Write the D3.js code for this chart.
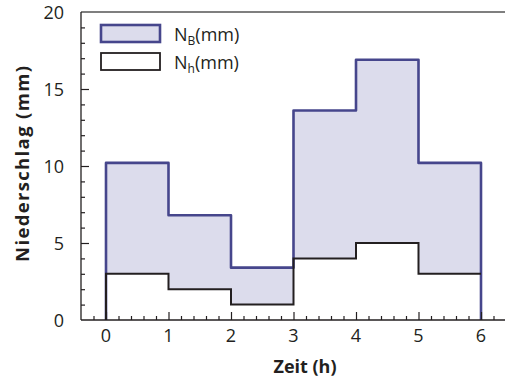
<!DOCTYPE html>
<html><head><meta charset="utf-8">
<script src="https://cdn.jsdelivr.net/npm/d3@7"></script>
<style>body{margin:0;background:#fff}svg{display:block}text{font-family:"Open Sans",sans-serif;fill:#231f20}</style>
</head><body><svg id="c" width="505" height="381"></svg>
<script>
const hours = [0,1,2,3,4,5,6];
const nB = [10.2, 6.8, 3.4, 13.6, 16.9, 10.2];
const nH = [3, 2, 1, 4, 5, 3];
const xTicks = [0,1,2,3,4,5,6];
const yTicks = [0,5,10,15,20];

const svg = d3.select("#c");
const x = d3.scaleLinear().domain([-0.4, 6.4]).range([81, 506]);
const y = d3.scaleLinear().domain([0, 20]).range([320, 12]);

function stepPts(vals){
  const pts=[];
  vals.forEach((v,i)=>{pts.push([hours[i],v]);pts.push([hours[i+1],v]);});
  return pts;
}
const line = d3.line().x(d=>x(d[0])).y(d=>y(d[1]));
const area = d3.area().x(d=>x(d[0])).y0(y(0)).y1(d=>y(d[1]));
const bPts = stepPts(nB), hPts = stepPts(nH);

svg.append("path").attr("d", area(bPts)).attr("fill","#dcdcec");
svg.append("path").attr("d", area(hPts)).attr("fill","#fff");
svg.append("path").attr("d", line([[0,0],...bPts,[6,0]])).attr("fill","none").attr("stroke","#46468c").attr("stroke-width",2.6).attr("stroke-linejoin","round");
svg.append("path").attr("d", line([[0,0],...hPts])).attr("fill","none").attr("stroke","#231f20").attr("stroke-width",2);

// axes frame
svg.append("line").attr("x1",x(-0.4)).attr("x2",505).attr("y1",y(20)).attr("y2",y(20)).attr("stroke","#555").attr("stroke-width",1.3);
svg.append("line").attr("x1",x(-0.4)).attr("x2",x(-0.4)).attr("y1",y(20)).attr("y2",y(0)).attr("stroke","#231f20").attr("stroke-width",1.3);
svg.append("line").attr("x1",x(-0.4)).attr("x2",505).attr("y1",y(0)).attr("y2",y(0)).attr("stroke","#231f20").attr("stroke-width",1.3);

const xAxis = d3.axisBottom(x).tickValues(d3.range(-0.2,6.41,0.2).map(v=>+v.toFixed(1))).tickSize(-4).tickFormat("");
const gx = svg.append("g").attr("transform",`translate(0,${y(0)})`).call(xAxis);
gx.select(".domain").remove();
gx.selectAll(".tick").filter(d=>Number.isInteger(d)).select("line").attr("y2",-8);
gx.selectAll("line").attr("stroke","#231f20").attr("stroke-width",1.2);
svg.append("g").selectAll("text").data(xTicks).join("text")
  .attr("x",d=>x(d)).attr("y",342).attr("text-anchor","middle").attr("font-size",18).text(d=>d);

const yAxis = d3.axisLeft(y).tickValues(d3.range(1,20)).tickSize(-4).tickFormat("");
const gy = svg.append("g").attr("transform",`translate(${x(-0.4)},0)`).call(yAxis);
gy.select(".domain").remove();
gy.selectAll(".tick").filter(d=>d%5===0).select("line").attr("x2",8);
gy.selectAll("line").attr("stroke","#231f20").attr("stroke-width",1.2);
svg.append("g").selectAll("text").data(yTicks).join("text")
  .attr("x",64).attr("y",d=>y(d)+7).attr("text-anchor","end").attr("font-size",18).text(d=>d);

svg.append("text").attr("transform","translate(29,164) rotate(-90)").attr("text-anchor","middle")
  .attr("font-size",18.5).attr("font-weight","bold").attr("textLength",196).attr("lengthAdjust","spacing").text("Niederschlag (mm)");
svg.append("text").attr("x",305).attr("y",373).attr("text-anchor","middle")
  .attr("font-size",18).attr("font-weight","bold").text("Zeit (h)");

// legend
const leg = [{s:"B",fill:"#dcdcec",stroke:"#46468c",w:2.6},{s:"h",fill:"#fff",stroke:"#231f20",w:1.8}];
leg.forEach((d,i)=>{
  const yy = 25 + i*28;
  svg.append("rect").attr("x",101).attr("y",yy).attr("width",59).attr("height",17).attr("fill",d.fill).attr("stroke",d.stroke).attr("stroke-width",d.w);
  const t = svg.append("text").attr("x",174).attr("y",yy+16).attr("font-size",18);
  t.append("tspan").text("N");
  t.append("tspan").attr("font-size",12).attr("dy",4).text(d.s);
  t.append("tspan").attr("dy",-4).text("(mm)");
});
</script></body></html>
